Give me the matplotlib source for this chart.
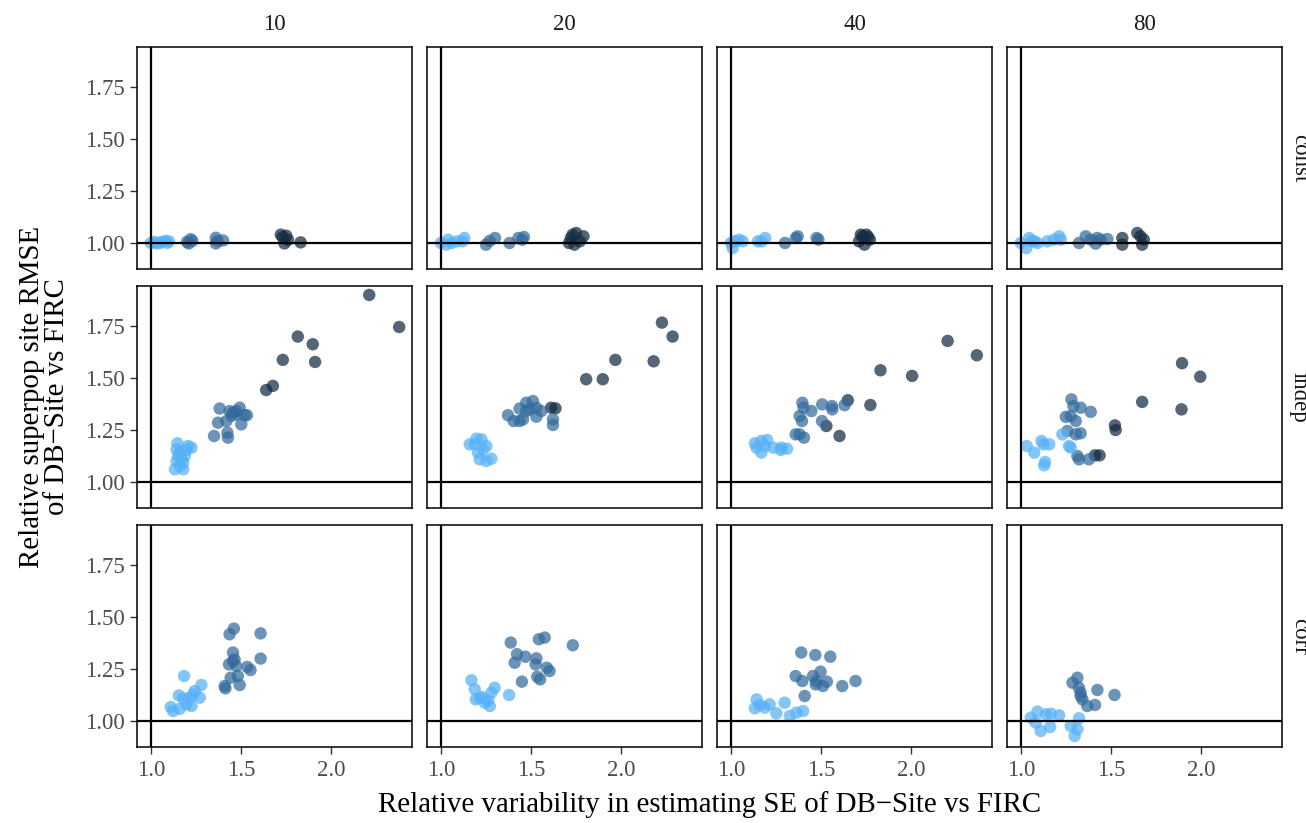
import numpy as np
import matplotlib
matplotlib.use('Agg')
import matplotlib.pyplot as plt

plt.rcParams['font.family'] = ['Liberation Serif', 'DejaVu Serif']

# facets
rows = ['const', 'indep', 'corr']
cols = ['10', '20', '40', '80']
x_ticks = [1.0, 1.5, 2.0]
y_ticks = [1.00, 1.25, 1.50, 1.75]
# colour level per point: 0 = light, 1 = mid, 2 = dark
level_colors = ['#56B1F7', '#336B9C', '#132B43']

# ---- row "const" ----
const_10_x = [1.00, 1.02, 1.03, 1.06, 1.08, 1.10, 1.09, 1.05,
              1.20, 1.22, 1.23, 1.21, 1.36, 1.37, 1.40, 1.36,
              1.72, 1.75, 1.74, 1.76, 1.83, 1.73]
const_10_y = [1.000, 1.005, 0.998, 1.005, 1.010, 1.008, 1.000, 1.000,
              1.005, 1.018, 1.010, 0.998, 1.025, 1.010, 1.012, 0.998,
              1.040, 1.035, 0.998, 1.015, 1.003, 1.028]
const_10_g = [0] * 8 + [1] * 8 + [2] * 6

const_20_x = [1.00, 1.04, 1.03, 1.12, 1.13, 1.09, 1.06,
              1.25, 1.30, 1.27, 1.38, 1.43, 1.46, 1.45,
              1.71, 1.73, 1.75, 1.77, 1.79, 1.74, 1.72]
const_20_y = [1.000, 1.016, 0.992, 1.008, 1.024, 1.008, 1.000,
              0.992, 1.024, 1.010, 1.000, 1.024, 1.029, 1.016,
              1.000, 1.040, 1.048, 1.008, 1.032, 0.992, 1.024]
const_20_g = [0] * 7 + [1] * 7 + [2] * 7

const_40_x = [1.00, 1.01, 1.045, 1.065, 1.15, 1.19, 1.17, 1.02,
              1.30, 1.36, 1.37, 1.475, 1.485,
              1.71, 1.73, 1.75, 1.77, 1.74, 1.72, 1.76]
const_40_y = [1.000, 0.976, 1.016, 1.008, 1.008, 1.024, 1.008, 1.008,
              1.000, 1.024, 1.032, 1.024, 1.016,
              1.008, 1.032, 1.040, 1.016, 0.992, 1.040, 1.030]
const_40_g = [0] * 8 + [1] * 5 + [2] * 7

const_80_x = [1.00, 1.03, 1.046, 1.074, 1.092, 1.147, 1.184, 1.212, 1.221, 1.06,
              1.322, 1.359, 1.387, 1.424, 1.442, 1.479, 1.414,
              1.562, 1.562, 1.645, 1.663, 1.681, 1.672]
const_80_y = [1.000, 0.976, 1.024, 1.008, 1.000, 1.008, 1.016, 1.032, 1.016, 1.010,
              1.000, 1.032, 1.016, 1.024, 1.016, 1.019, 0.997,
              1.024, 0.992, 1.048, 1.032, 1.016, 0.992]
const_80_g = [0] * 10 + [1] * 7 + [2] * 6

# ---- row "indep" ----
indep_10_x = [2.21, 2.376, 1.814, 1.897, 1.910, 1.731, 1.639, 1.676,
              1.381, 1.436, 1.492, 1.519, 1.473, 1.455, 1.501, 1.372, 1.418,
              1.350, 1.427, 1.424, 1.532, 1.473, 1.446,
              1.147, 1.225, 1.197, 1.160, 1.142, 1.179, 1.133, 1.179, 1.151,
              1.188, 1.160, 1.206, 1.142, 1.169]
indep_10_y = [1.899, 1.745, 1.699, 1.662, 1.577, 1.587, 1.442, 1.462,
              1.353, 1.341, 1.357, 1.321, 1.325, 1.333, 1.277, 1.285, 1.293,
              1.221, 1.213, 1.237, 1.321, 1.341, 1.317,
              1.186, 1.165, 1.154, 1.141, 1.101, 1.093, 1.061, 1.061, 1.125,
              1.125, 1.077, 1.173, 1.157, 1.109]
indep_10_g = [2] * 8 + [1] * 15 + [0] * 14

indep_20_x = [2.225, 2.284, 1.967, 2.179, 1.805, 1.897, 1.611, 1.635,
              1.372, 1.436, 1.473, 1.510, 1.529, 1.492, 1.529, 1.436, 1.403,
              1.455, 1.621, 1.621, 1.556, 1.473,
              1.160, 1.197, 1.225, 1.252, 1.215, 1.252, 1.280, 1.188, 1.234, 1.206]
indep_20_y = [1.766, 1.699, 1.587, 1.580, 1.494, 1.494, 1.357, 1.354,
              1.321, 1.353, 1.381, 1.389, 1.357, 1.349, 1.314, 1.293, 1.293,
              1.301, 1.301, 1.274, 1.341, 1.341,
              1.181, 1.208, 1.205, 1.173, 1.109, 1.101, 1.112, 1.181, 1.157, 1.141]
indep_20_g = [2] * 8 + [1] * 14 + [0] * 10

indep_40_x = [2.201, 2.363, 1.829, 2.004, 1.773, 1.648, 1.529, 1.602,
              1.396, 1.403, 1.446, 1.506, 1.560, 1.562, 1.630, 1.381, 1.394,
              1.505, 1.359, 1.381, 1.405,
              1.133, 1.169, 1.201, 1.142, 1.169, 1.234, 1.280, 1.311, 1.188, 1.276]
indep_40_y = [1.678, 1.609, 1.537, 1.510, 1.370, 1.393, 1.269, 1.221,
              1.381, 1.357, 1.341, 1.373, 1.365, 1.349, 1.369, 1.317, 1.293,
              1.293, 1.229, 1.229, 1.213,
              1.186, 1.197, 1.202, 1.165, 1.141, 1.165, 1.165, 1.160, 1.173, 1.154]
indep_40_g = [2] * 8 + [1] * 13 + [0] * 10

indep_80_x = [1.893, 1.994, 1.672, 1.890, 1.521, 1.525, 1.411, 1.436,
              1.280, 1.291, 1.331, 1.387, 1.249, 1.276, 1.304, 1.258, 1.331,
              1.304, 1.313, 1.322, 1.377,
              1.033, 1.074, 1.114, 1.125, 1.157, 1.230, 1.267, 1.276, 1.134, 1.129]
indep_80_y = [1.571, 1.506, 1.385, 1.349, 1.272, 1.250, 1.128, 1.128,
              1.397, 1.365, 1.357, 1.337, 1.313, 1.317, 1.293, 1.245, 1.234,
              1.229, 1.125, 1.109, 1.109,
              1.173, 1.141, 1.197, 1.181, 1.181, 1.229, 1.173, 1.165, 1.096, 1.080]
indep_80_g = [2] * 8 + [1] * 13 + [0] * 10

# ---- row "corr" ----
corr_10_x = [1.460, 1.436, 1.608, 1.608, 1.455, 1.455, 1.433, 1.473, 1.534,
             1.552, 1.482, 1.442, 1.409, 1.413, 1.492, 1.464,
             1.184, 1.280, 1.155, 1.234, 1.215, 1.179, 1.271, 1.225, 1.160,
             1.110, 1.123, 1.197, 1.243]
corr_10_y = [1.444, 1.417, 1.421, 1.300, 1.329, 1.288, 1.272, 1.264, 1.260,
             1.245, 1.216, 1.208, 1.168, 1.157, 1.173, 1.296,
             1.216, 1.173, 1.123, 1.128, 1.112, 1.109, 1.112, 1.072, 1.059,
             1.067, 1.048, 1.080, 1.144]
corr_10_g = [1] * 16 + [0] * 13

corr_20_x = [1.387, 1.543, 1.575, 1.731, 1.422, 1.468, 1.529, 1.409, 1.525,
             1.587, 1.602, 1.534, 1.550, 1.449,
             1.169, 1.188, 1.298, 1.193, 1.228, 1.280, 1.378, 1.243, 1.271,
             1.262, 1.215]
corr_20_y = [1.377, 1.393, 1.401, 1.364, 1.321, 1.309, 1.301, 1.280, 1.272,
             1.256, 1.240, 1.213, 1.200, 1.189,
             1.196, 1.152, 1.160, 1.104, 1.115, 1.136, 1.125, 1.088, 1.072,
             1.099, 1.109]
corr_20_g = [1] * 14 + [0] * 11

corr_40_x = [1.390, 1.468, 1.551, 1.359, 1.396, 1.455, 1.497, 1.473, 1.532,
             1.510, 1.617, 1.691, 1.409, 1.470,
             1.142, 1.133, 1.188, 1.215, 1.298, 1.252, 1.326, 1.363, 1.400, 1.160]
corr_40_y = [1.329, 1.317, 1.309, 1.216, 1.192, 1.216, 1.237, 1.192, 1.189,
             1.168, 1.168, 1.192, 1.120, 1.176,
             1.104, 1.061, 1.064, 1.080, 1.088, 1.037, 1.024, 1.040, 1.048, 1.077]
corr_40_g = [1] * 14 + [0] * 10

corr_80_x = [1.313, 1.286, 1.322, 1.331, 1.341, 1.368, 1.411, 1.424, 1.519, 1.331,
             1.055, 1.092, 1.138, 1.166, 1.212, 1.110, 1.162, 1.276, 1.298,
             1.322, 1.313, 1.083]
corr_80_y = [1.208, 1.184, 1.160, 1.120, 1.104, 1.072, 1.077, 1.149, 1.125, 1.136,
             1.016, 1.045, 1.032, 1.035, 1.027, 0.952, 0.971, 0.976, 0.928,
             1.013, 0.960, 0.992]
corr_80_g = [1] * 10 + [0] * 12

panels = {
    ('const', '10'): (const_10_x, const_10_y, const_10_g),
    ('const', '20'): (const_20_x, const_20_y, const_20_g),
    ('const', '40'): (const_40_x, const_40_y, const_40_g),
    ('const', '80'): (const_80_x, const_80_y, const_80_g),
    ('indep', '10'): (indep_10_x, indep_10_y, indep_10_g),
    ('indep', '20'): (indep_20_x, indep_20_y, indep_20_g),
    ('indep', '40'): (indep_40_x, indep_40_y, indep_40_g),
    ('indep', '80'): (indep_80_x, indep_80_y, indep_80_g),
    ('corr', '10'): (corr_10_x, corr_10_y, corr_10_g),
    ('corr', '20'): (corr_20_x, corr_20_y, corr_20_g),
    ('corr', '40'): (corr_40_x, corr_40_y, corr_40_g),
    ('corr', '80'): (corr_80_x, corr_80_y, corr_80_g),
}

W, H = 1306, 823
fig = plt.figure(figsize=(W / 100, H / 100), dpi=100)

left0, top0 = 137, 47
pw, ph = 275, 222
col_step, row_step = 290, 239

for i, rname in enumerate(rows):
    for j, cname in enumerate(cols):
        l = left0 + j * col_step
        t = top0 + i * row_step
        ax = fig.add_axes([l / W, 1 - (t + ph) / H, pw / W, ph / H])
        x, y, g = panels[(rname, cname)]
        cols_pts = [level_colors[k] for k in g]
        ax.scatter(x, y, s=80, c=cols_pts, alpha=0.72, edgecolors='none', zorder=3)
        ax.axhline(1.0, color='black', lw=1.6, zorder=4)
        ax.axvline(1.0, color='black', lw=1.6, zorder=4)
        ax.set_xlim(0.923, 2.447)
        ax.set_ylim(0.875, 1.942)
        ax.set_xticks(x_ticks)
        ax.set_yticks(y_ticks)
        for s in ax.spines.values():
            s.set_color('black')
            s.set_linewidth(1.1)
        ax.tick_params(direction='out', length=5, width=1.0, color='#333333',
                       labelsize=16.5, labelcolor='#4D4D4D', pad=4)
        if j == 0:
            ax.set_yticklabels(['%.2f' % v for v in y_ticks])
        else:
            ax.tick_params(axis='y', left=False, labelleft=False)
        if i == len(rows) - 1:
            ax.set_xticklabels(['%.1f' % v for v in x_ticks])
        else:
            ax.tick_params(axis='x', bottom=False, labelbottom=False)
        if i == 0:
            fig.text((l + pw / 2) / W, 1 - 25 / H, cname, ha='center', va='center',
                     fontsize=16.5, color='#1A1A1A')
        if j == len(cols) - 1:
            fig.text(1289 / W, 1 - (t + ph / 2) / H, rname, rotation=-90,
                     ha='left', va='center', fontsize=16.5, color='#1A1A1A')

fig.text(709.5 / W, 1 - 805 / H, 'Relative variability in estimating SE of DB\u2212Site vs FIRC',
         ha='center', va='center', fontsize=20.8)
fig.text(45 / W, 1 - 397 / H, 'Relative superpop site RMSE\nof DB\u2212Site vs FIRC',
         ha='center', va='center', rotation=90, fontsize=20.8, linespacing=0.95)

fig.savefig('out.png', dpi=100)
